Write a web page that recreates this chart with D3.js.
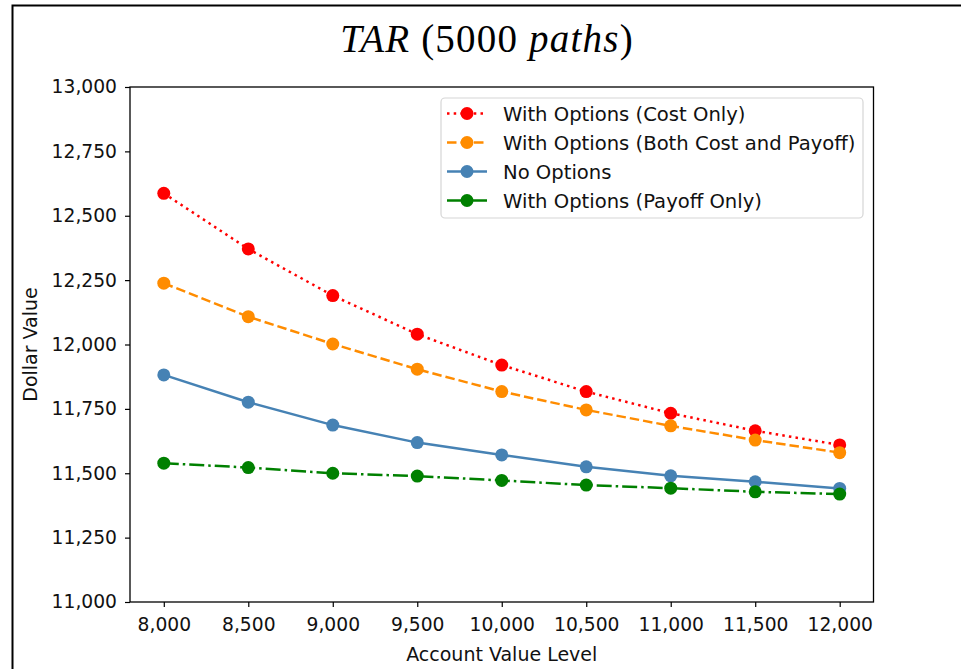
<!DOCTYPE html>
<html><head><meta charset="utf-8">
<script src="https://cdn.jsdelivr.net/npm/d3@7"></script>
<style>body{margin:0;background:#fff;} svg{display:block;}</style>
</head><body><svg id="c" width="961" height="669"></svg>
<script>
const accountValues = [8000, 8500, 9000, 9500, 10000, 10500, 11000, 11500, 12000];
const costOnly   = [12587, 12371, 12190, 12040, 11920, 11817, 11733, 11665, 11610];
const bothCostPayoff = [12238, 12108, 12002, 11904, 11817, 11746, 11684, 11629, 11580];
const noOptions  = [11882, 11776, 11687, 11619, 11571, 11525, 11490, 11467, 11441];
const payoffOnly = [11539, 11522, 11500, 11489, 11472, 11454, 11442, 11428, 11419];
const xTicks = [8000, 8500, 9000, 9500, 10000, 10500, 11000, 11500, 12000];
const yTicks = [11000, 11250, 11500, 11750, 12000, 12250, 12500, 12750, 13000];
const seriesNames = ["With Options (Cost Only)", "With Options (Both Cost and Payoff)", "No Options", "With Options (Payoff Only)"];
const seriesValues = [costOnly, bothCostPayoff, noOptions, payoffOnly];
const seriesColors = ["#ff0000", "#ff8c00", "#4682b4", "#008000"];
const seriesDash = ["2.5,4.2", "9.5,4", null, "15,4,2.5,4"];

const svg = d3.select("#c");
const FONT = "'DejaVu Sans', sans-serif";
const L = 130, R = 873.5, T = 87, B = 602;

// outer frame (left + top)
svg.append("path").attr("d", `M12.5,669 L12.5,5.5 L961,5.5`).attr("fill", "none").attr("stroke", "#000").attr("stroke-width", 2);

const x = d3.scaleLinear().domain([7800, 12200]).range([L, R]);
const y = d3.scaleLinear().domain([11000, 13000]).range([B, T]);

// title
const title = svg.append("text").attr("x", 487).attr("y", 52).attr("text-anchor", "middle")
  .attr("font-family", "'Liberation Serif', 'DejaVu Serif', serif").attr("font-size", 39)
  .attr("letter-spacing", 1.2).attr("fill", "#000");
title.append("tspan").attr("font-style", "italic").text("TAR");
title.append("tspan").text(" (5000 ");
title.append("tspan").attr("font-style", "italic").text("paths");
title.append("tspan").text(")");

// axes
const fmt = d3.format(",");
const xAxis = svg.append("g").attr("transform", `translate(0,${B})`)
  .call(d3.axisBottom(x).tickValues(xTicks).tickFormat(fmt).tickSizeInner(5).tickSizeOuter(0).tickPadding(11));
const yAxis = svg.append("g").attr("transform", `translate(${L},0)`)
  .call(d3.axisLeft(y).tickValues(yTicks).tickFormat(fmt).tickSizeInner(5).tickSizeOuter(0).tickPadding(8));
[xAxis, yAxis].forEach(g => {
  g.selectAll("text").attr("font-family", FONT).attr("font-size", 18.7).attr("fill", "#111");
  g.selectAll("line").attr("stroke", "#000").attr("stroke-width", 1.2);
  g.select(".domain").remove();
});

// plot frame
svg.append("rect").attr("x", L).attr("y", T).attr("width", R - L).attr("height", B - T)
  .attr("fill", "none").attr("stroke", "#000").attr("stroke-width", 1.3);

// axis labels
svg.append("text").attr("x", (L + R) / 2).attr("y", 661).attr("text-anchor", "middle")
  .attr("font-family", FONT).attr("font-size", 19).attr("fill", "#111").text("Account Value Level");
svg.append("text").attr("transform", `translate(37,${(T + B) / 2}) rotate(-90)`).attr("text-anchor", "middle")
  .attr("font-family", FONT).attr("font-size", 19).attr("fill", "#111").text("Dollar Value");

// series
const line = d3.line().x((d, i) => x(accountValues[i])).y(d => y(d));
seriesValues.forEach((vals, s) => {
  const g = svg.append("g");
  g.append("path").datum(vals).attr("d", line).attr("fill", "none")
    .attr("stroke", seriesColors[s]).attr("stroke-width", 2.5)
    .attr("stroke-dasharray", seriesDash[s]);
  g.selectAll("circle").data(vals).join("circle")
    .attr("cx", (d, i) => x(accountValues[i])).attr("cy", d => y(d)).attr("r", 6.5)
    .attr("fill", seriesColors[s]);
});

// legend
const lg = svg.append("g");
lg.append("rect").attr("x", 441).attr("y", 98).attr("width", 422).attr("height", 120).attr("rx", 4)
  .attr("fill", "#fff").attr("fill-opacity", 0.8).attr("stroke", "#d6d6d6").attr("stroke-width", 1.2);
seriesNames.forEach((name, s) => {
  const yy = 113.5 + s * 29;
  lg.append("line").attr("x1", 447).attr("x2", 487).attr("y1", yy).attr("y2", yy)
    .attr("stroke", seriesColors[s]).attr("stroke-width", 2.5).attr("stroke-dasharray", seriesDash[s]);
  lg.append("circle").attr("cx", 467).attr("cy", yy).attr("r", 6.5).attr("fill", seriesColors[s]);
  lg.append("text").attr("x", 503).attr("y", yy).attr("dy", "0.36em")
    .attr("font-family", FONT).attr("font-size", 19.6).attr("fill", "#111").text(name);
});
</script>
</body></html>
